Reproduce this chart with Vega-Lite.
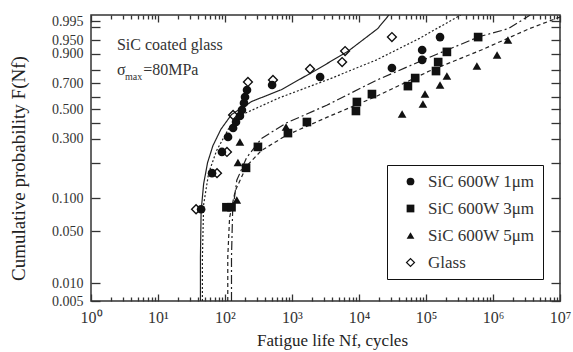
{
  "$schema": "https://vega.github.io/schema/vega-lite/v6.json",
  "autosize": "none",
  "width": 469,
  "height": 286,
  "padding": {"left": 91, "top": 15, "right": 13, "bottom": 51},
  "background": "white",
  "config": {
    "view": {"stroke": "#333", "strokeWidth": 1.5},
    "font": "Liberation Serif",
    "axis": {"grid": false, "domain": false, "labelFont": "Liberation Serif", "titleFont": "Liberation Serif", "labelColor": "#333", "titleColor": "#222", "tickColor": "#333", "tickWidth": 1.3, "titleFontWeight": "normal", "tickCount": 200, "labelOverlap": false}
  },
  "datasets": {
    "points": [
      {"series": "SiC 600W 1μm", "N": 44, "F": 0.083},
      {"series": "SiC 600W 1μm", "N": 64, "F": 0.17},
      {"series": "SiC 600W 1μm", "N": 90, "F": 0.244},
      {"series": "SiC 600W 1μm", "N": 111, "F": 0.31},
      {"series": "SiC 600W 1μm", "N": 132, "F": 0.368},
      {"series": "SiC 600W 1μm", "N": 146, "F": 0.407},
      {"series": "SiC 600W 1μm", "N": 167, "F": 0.45},
      {"series": "SiC 600W 1μm", "N": 179, "F": 0.493},
      {"series": "SiC 600W 1μm", "N": 192, "F": 0.548},
      {"series": "SiC 600W 1μm", "N": 199, "F": 0.596},
      {"series": "SiC 600W 1μm", "N": 213, "F": 0.648},
      {"series": "SiC 600W 1μm", "N": 505, "F": 0.685},
      {"series": "SiC 600W 1μm", "N": 2630, "F": 0.746},
      {"series": "SiC 600W 1μm", "N": 31000, "F": 0.812},
      {"series": "SiC 600W 1μm", "N": 87600, "F": 0.861},
      {"series": "SiC 600W 1μm", "N": 87600, "F": 0.913},
      {"series": "SiC 600W 1μm", "N": 162000, "F": 0.959},
      {"series": "SiC 600W 3μm", "N": 105, "F": 0.086},
      {"series": "SiC 600W 3μm", "N": 125, "F": 0.086},
      {"series": "SiC 600W 3μm", "N": 206, "F": 0.185},
      {"series": "SiC 600W 3μm", "N": 310, "F": 0.265},
      {"series": "SiC 600W 3μm", "N": 870, "F": 0.335},
      {"series": "SiC 600W 3μm", "N": 1670, "F": 0.407},
      {"series": "SiC 600W 3μm", "N": 9000, "F": 0.486},
      {"series": "SiC 600W 3μm", "N": 9300, "F": 0.556},
      {"series": "SiC 600W 3μm", "N": 15600, "F": 0.618},
      {"series": "SiC 600W 3μm", "N": 53700, "F": 0.677},
      {"series": "SiC 600W 3μm", "N": 69000, "F": 0.738},
      {"series": "SiC 600W 3μm", "N": 141000, "F": 0.792},
      {"series": "SiC 600W 3μm", "N": 152000, "F": 0.848},
      {"series": "SiC 600W 3μm", "N": 205000, "F": 0.906},
      {"series": "SiC 600W 3μm", "N": 600000, "F": 0.959},
      {"series": "SiC 600W 5μm", "N": 150, "F": 0.097},
      {"series": "SiC 600W 5μm", "N": 156, "F": 0.2},
      {"series": "SiC 600W 5μm", "N": 167, "F": 0.285},
      {"series": "SiC 600W 5μm", "N": 815, "F": 0.374},
      {"series": "SiC 600W 5μm", "N": 44000, "F": 0.464},
      {"series": "SiC 600W 5μm", "N": 90000, "F": 0.54},
      {"series": "SiC 600W 5μm", "N": 96600, "F": 0.618},
      {"series": "SiC 600W 5μm", "N": 162000, "F": 0.685},
      {"series": "SiC 600W 5μm", "N": 205000, "F": 0.754},
      {"series": "SiC 600W 5μm", "N": 575000, "F": 0.824},
      {"series": "SiC 600W 5μm", "N": 1150000, "F": 0.891},
      {"series": "SiC 600W 5μm", "N": 1670000, "F": 0.95},
      {"series": "Glass", "N": 37, "F": 0.083},
      {"series": "Glass", "N": 76, "F": 0.17},
      {"series": "Glass", "N": 107, "F": 0.244},
      {"series": "Glass", "N": 132, "F": 0.457},
      {"series": "Glass", "N": 220, "F": 0.708},
      {"series": "Glass", "N": 520, "F": 0.723},
      {"series": "Glass", "N": 1860, "F": 0.806},
      {"series": "Glass", "N": 5600, "F": 0.848},
      {"series": "Glass", "N": 6200, "F": 0.909},
      {"series": "Glass", "N": 31000, "F": 0.959}
    ],
    "curves": [
      {"fit": "glass", "k": 1, "N": 43, "F": 0.005},
      {"fit": "glass", "k": 2, "N": 43, "F": 0.03},
      {"fit": "glass", "k": 3, "N": 44, "F": 0.08},
      {"fit": "glass", "k": 4, "N": 48, "F": 0.14},
      {"fit": "glass", "k": 5, "N": 55, "F": 0.2},
      {"fit": "glass", "k": 6, "N": 66, "F": 0.27},
      {"fit": "glass", "k": 7, "N": 87, "F": 0.36},
      {"fit": "glass", "k": 8, "N": 125, "F": 0.46},
      {"fit": "glass", "k": 9, "N": 250, "F": 0.56},
      {"fit": "glass", "k": 10, "N": 690, "F": 0.65},
      {"fit": "glass", "k": 11, "N": 2300, "F": 0.8},
      {"fit": "glass", "k": 12, "N": 7000, "F": 0.91},
      {"fit": "glass", "k": 13, "N": 19000, "F": 0.985},
      {"fit": "glass", "k": 14, "N": 28000, "F": 0.998},
      {"fit": "1um", "k": 1, "N": 46, "F": 0.005},
      {"fit": "1um", "k": 2, "N": 46, "F": 0.03},
      {"fit": "1um", "k": 3, "N": 48, "F": 0.09},
      {"fit": "1um", "k": 4, "N": 57, "F": 0.17},
      {"fit": "1um", "k": 5, "N": 75, "F": 0.25},
      {"fit": "1um", "k": 6, "N": 112, "F": 0.36},
      {"fit": "1um", "k": 7, "N": 200, "F": 0.47},
      {"fit": "1um", "k": 8, "N": 650, "F": 0.59},
      {"fit": "1um", "k": 9, "N": 3600, "F": 0.73},
      {"fit": "1um", "k": 10, "N": 18000, "F": 0.86},
      {"fit": "1um", "k": 11, "N": 80000, "F": 0.955},
      {"fit": "1um", "k": 12, "N": 330000, "F": 0.998},
      {"fit": "3um", "k": 1, "N": 125, "F": 0.005},
      {"fit": "3um", "k": 2, "N": 125, "F": 0.03},
      {"fit": "3um", "k": 3, "N": 130, "F": 0.08},
      {"fit": "3um", "k": 4, "N": 150, "F": 0.15},
      {"fit": "3um", "k": 5, "N": 210, "F": 0.22},
      {"fit": "3um", "k": 6, "N": 350, "F": 0.3},
      {"fit": "3um", "k": 7, "N": 820, "F": 0.4},
      {"fit": "3um", "k": 8, "N": 3300, "F": 0.53},
      {"fit": "3um", "k": 9, "N": 18000, "F": 0.72},
      {"fit": "3um", "k": 10, "N": 110000, "F": 0.875},
      {"fit": "3um", "k": 11, "N": 620000, "F": 0.96},
      {"fit": "3um", "k": 12, "N": 1700000, "F": 0.985},
      {"fit": "3um", "k": 13, "N": 3600000, "F": 0.998},
      {"fit": "5um", "k": 1, "N": 110, "F": 0.005},
      {"fit": "5um", "k": 2, "N": 110, "F": 0.03},
      {"fit": "5um", "k": 3, "N": 117, "F": 0.07},
      {"fit": "5um", "k": 4, "N": 142, "F": 0.12},
      {"fit": "5um", "k": 5, "N": 210, "F": 0.19},
      {"fit": "5um", "k": 6, "N": 350, "F": 0.25},
      {"fit": "5um", "k": 7, "N": 820, "F": 0.32},
      {"fit": "5um", "k": 8, "N": 3300, "F": 0.44},
      {"fit": "5um", "k": 9, "N": 18000, "F": 0.6},
      {"fit": "5um", "k": 10, "N": 110000, "F": 0.79},
      {"fit": "5um", "k": 11, "N": 700000, "F": 0.915},
      {"fit": "5um", "k": 12, "N": 3500000, "F": 0.985},
      {"fit": "5um", "k": 13, "N": 10000000, "F": 0.997}
    ],
    "notes": [
      {"text": "SiC coated glass", "N": 2.44, "F": 0.931},
      {"text": "σ", "N": 2.44, "F": 0.8},
      {"text": "=80MPa", "N": 6.0, "F": 0.8}
    ],
    "subscripts": [
      {"text": "max", "N": 3.22, "F": 0.745}
    ]
  },
  "resolve": {"axis": {"x": "independent", "y": "independent"}},
  "layer": [
    {
      "data": {"name": "curves"},
      "mark": {"type": "line", "color": "#222", "strokeWidth": 1.2, "clip": true},
      "encoding": {
        "x": {
          "field": "N", "type": "quantitative",
          "scale": {"type": "log", "domain": [1, 10000000], "nice": false},
          "axis": {
            "orient": "bottom",
            "values": [1, 10, 100, 1000, 10000, 100000, 1000000, 10000000],
            "labelExpr": "'10' + ['⁰','¹','²','³','⁴','⁵','⁶','⁷'][round(log(datum.value)/LN10)]",
            "offset": -7,
            "tickSize": 7,
            "labelFontSize": 16,
            "labelPadding": 8,
            "labelFlush": false,
            "title": "Fatigue life Nf, cycles",
            "titleFontSize": 17,
            "titleBaseline": "top",
            "titleAlign": "center",
            "titleX": 241,
            "titleY": 38
          }
        },
        "y": {
          "field": "F", "type": "quantitative",
          "scale": {
            "type": "linear", "nice": false, "zero": false,
            "domain": [0.005, 0.01, 0.05, 0.1, 0.2, 0.3, 0.4, 0.5, 0.6, 0.7, 0.8, 0.9, 0.95, 0.99, 0.995, 0.998],
            "range": [286, 268, 216, 183, 147.5, 123.5, 108, 94, 81.5, 68, 55, 38.5, 25, 12, 6, 0]
          },
          "axis": {
            "orient": "left",
            "values": [0.005, 0.01, 0.05, 0.1, 0.2, 0.3, 0.4, 0.5, 0.6, 0.7, 0.8, 0.9, 0.95, 0.99, 0.995],
            "labelExpr": "indexof([0.2, 0.4, 0.6, 0.8, 0.99], datum.value) >= 0 ? '' : format(datum.value, '.3f')",
            "offset": -9,
            "tickSize": 9,
            "labelFontSize": 14,
            "labelPadding": 8,
            "title": "Cumulative probability F(Nf)",
            "titleFontSize": 19,
            "titleX": -82,
            "titleY": 153,
            "titleBaseline": "middle"
          }
        },
        "strokeDash": {
          "field": "fit", "type": "nominal",
          "scale": {"domain": ["glass", "1um", "3um", "5um"], "range": [[1, 0], [2, 2], [9, 3, 2, 3], [4, 3]]},
          "legend": null
        },
        "order": {"field": "k", "type": "quantitative"}
      }
    },
    {
      "data": {"name": "points"},
      "mark": {"type": "point", "filled": true, "color": "#111", "opacity": 1, "size": 75},
      "encoding": {
        "x": {
          "field": "N", "type": "quantitative",
          "axis": {
            "orient": "top",
            "values": [1, 10, 100, 1000, 10000, 100000, 1000000, 10000000],
            "labels": false,
            "title": null,
            "offset": -7,
            "tickSize": 7
          }
        },
        "y": {
          "field": "F", "type": "quantitative",
          "axis": {
            "orient": "right",
            "values": [0.005, 0.01, 0.05, 0.1, 0.2, 0.3, 0.4, 0.5, 0.6, 0.7, 0.8, 0.9, 0.95, 0.99, 0.995],
            "labels": false,
            "title": null,
            "offset": -9,
            "tickSize": 9
          }
        },
        "shape": {
          "field": "series", "type": "nominal",
          "scale": {
            "domain": ["SiC 600W 1μm", "SiC 600W 3μm", "SiC 600W 5μm", "Glass"],
            "range": ["circle", "square", "triangle-up", "M0,-1.25L1.25,0L0,1.25L-1.25,0Z M0,-0.8L-0.8,0L0,0.8L0.8,0Z"]
          },
          "legend": {
            "title": null, "orient": "none", "legendX": 296, "legendY": 150,
            "strokeColor": "#111", "fillColor": "white", "padding": 8,
            "labelFont": "Liberation Serif", "labelFontSize": 17, "labelColor": "#333",
            "rowPadding": 9, "labelOffset": 9, "symbolOffset": 7,
            "symbolFillColor": "#111", "symbolStrokeWidth": 0, "symbolSize": 60
          }
        }
      }
    },
    {
      "data": {"name": "notes"},
      "mark": {"type": "text", "font": "Liberation Serif", "fontSize": 16, "color": "#333", "align": "left", "baseline": "middle"},
      "encoding": {
        "x": {
          "field": "N", "type": "quantitative",
          "axis": {
            "orient": "bottom",
            "values": [2,3,4,5,6,7,8,9,20,30,40,50,60,70,80,90,200,300,400,500,600,700,800,900,2000,3000,4000,5000,6000,7000,8000,9000,20000,30000,40000,50000,60000,70000,80000,90000,200000,300000,400000,500000,600000,700000,800000,900000,2000000,3000000,4000000,5000000,6000000,7000000,8000000,9000000],
            "labels": false,
            "title": null,
            "offset": -4,
            "tickSize": 4
          }
        },
        "y": {"field": "F", "type": "quantitative", "axis": null},
        "text": {"field": "text"}
      }
    },
    {
      "data": {"name": "subscripts"},
      "mark": {"type": "text", "font": "Liberation Serif", "fontSize": 10, "color": "#333", "align": "left", "baseline": "middle"},
      "encoding": {
        "x": {
          "field": "N", "type": "quantitative",
          "axis": {
            "orient": "top",
            "values": [2,3,4,5,6,7,8,9,20,30,40,50,60,70,80,90,200,300,400,500,600,700,800,900,2000,3000,4000,5000,6000,7000,8000,9000,20000,30000,40000,50000,60000,70000,80000,90000,200000,300000,400000,500000,600000,700000,800000,900000,2000000,3000000,4000000,5000000,6000000,7000000,8000000,9000000],
            "labels": false,
            "title": null,
            "offset": -4,
            "tickSize": 4
          }
        },
        "y": {"field": "F", "type": "quantitative", "axis": null},
        "text": {"field": "text"}
      }
    }
  ]
}
